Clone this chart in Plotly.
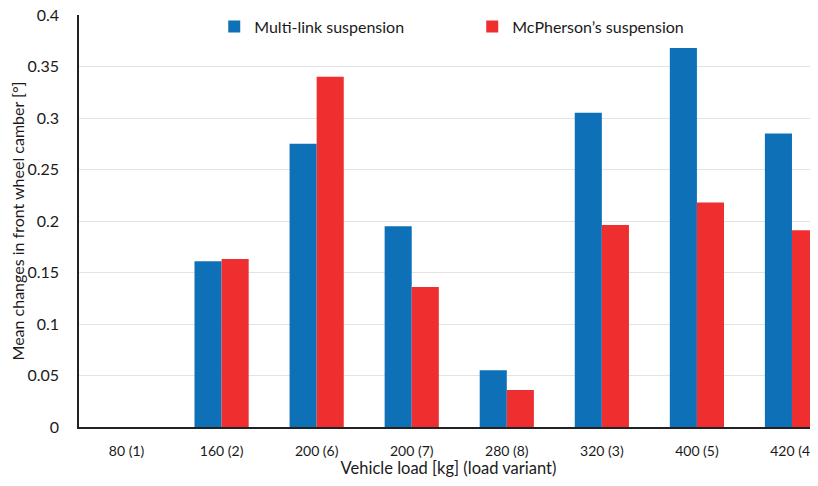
import plotly.graph_objects as go

categories = ["80 (1)", "160 (2)", "200 (6)", "200 (7)", "280 (8)", "320 (3)", "400 (5)", "420 (4)"]
multi_link = [0, 0.161, 0.275, 0.195, 0.055, 0.305, 0.368, 0.285]
mcpherson = [0, 0.163, 0.340, 0.136, 0.036, 0.196, 0.218, 0.191]
y_ticks = [0, 0.05, 0.1, 0.15, 0.2, 0.25, 0.3, 0.35, 0.4]

FONT = "Lato"

fig = go.Figure()
fig.add_trace(go.Bar(x=categories, y=multi_link, name="Multi-link suspension",
                     marker=dict(color="#0E71B8", line=dict(width=0))))
fig.add_trace(go.Bar(x=categories, y=mcpherson, name="McPherson\u2019s suspension",
                     marker=dict(color="#EE2E2F", line=dict(width=0))))

# the page body adds an 8px margin all round, so keep the figure inside the window
fig.update_layout(
    width=810, height=470,
    margin=dict(l=71, r=0, t=7, b=51),
    paper_bgcolor="white", plot_bgcolor="white",
    font=dict(family=FONT, size=16, color="#1a1a1a"),
    barmode="group", bargap=0.43, bargroupgap=0,
    showlegend=True,
    legend=dict(orientation="h", x=0.183, y=1.013, xanchor="left", yanchor="top",
                bgcolor="rgba(0,0,0,0)", entrywidth=213, entrywidthmode="pixels",
                font=dict(size=16)),
)
fig.update_xaxes(
    range=[-0.5, -0.5 + (818 - 79.5) / 95], automargin=False,
    showline=True, linecolor="#222", linewidth=1.5,
    showgrid=False, ticks="", ticklabelstandoff=10, tickfont=dict(size=14),
    ticklabeloverflow="allow",
    title=dict(text="Vehicle load [kg] (load variant)", standoff=0, font=dict(size=16.5)),
)
fig.update_yaxes(
    range=[0, 0.4], tickvals=y_ticks, ticktext=[f"{v:g}" for v in y_ticks],
    automargin=False, ticklabeloverflow="allow",
    showline=True, linecolor="#222", linewidth=1.5,
    showgrid=True, gridcolor="#E3E3E3", gridwidth=1,
    zeroline=False, ticks="", ticklabelstandoff=15,
    title=dict(text="Mean changes in front wheel camber [°]", standoff=12, font=dict(size=16)),
)

fig.write_html("out.html")
